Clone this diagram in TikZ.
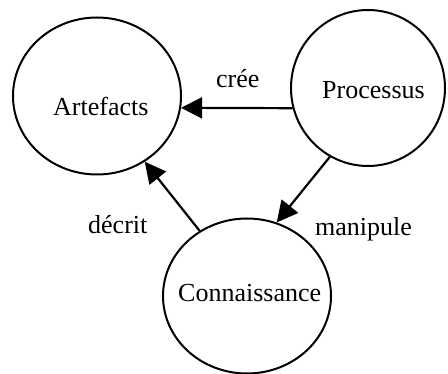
\documentclass[tikz,border=0pt]{standalone}
\usepackage{fontspec}
\setmainfont{Liberation Serif}
\usetikzlibrary{shapes.geometric,arrows.meta}
\begin{document}
\begin{tikzpicture}[x=1pt,y=-1pt,
  bubble/.style={draw,line width=2pt,ellipse,inner sep=0pt},
  word/.style={inner sep=0pt,anchor=base west,font=\fontsize{26}{31}\selectfont},
  link/.style={line width=2.2pt,-{Triangle[length=21pt,width=21pt]}}]
\useasboundingbox (0,0) rectangle (448,374);
% the three concepts
\node[bubble,minimum width=168pt,minimum height=157pt] (art) at (97,96) {};
\node[bubble,minimum width=154pt,minimum height=156pt] (proc) at (368,88) {};
\node[bubble,minimum width=168pt,minimum height=155pt] (conn) at (247,296) {};
\node[word] (artT) at (53,116) {Artefacts};
\node[word] (procT) at (322,99) {Processus};
\node[word] (connT) at (178,302) {Connaissance};
% relations
\draw[link] (proc.195) -- (art.-8);
\draw[link] (proc.241) -- (conn.68);
\draw[link] (conn.126) -- (art.-54);
\node[word] (cree) at (216,88) {crée};
\node[word] (manip) at (315,236) {manipule};
\node[word] (decrit) at (88,234) {décrit};
\end{tikzpicture}
\end{document}
